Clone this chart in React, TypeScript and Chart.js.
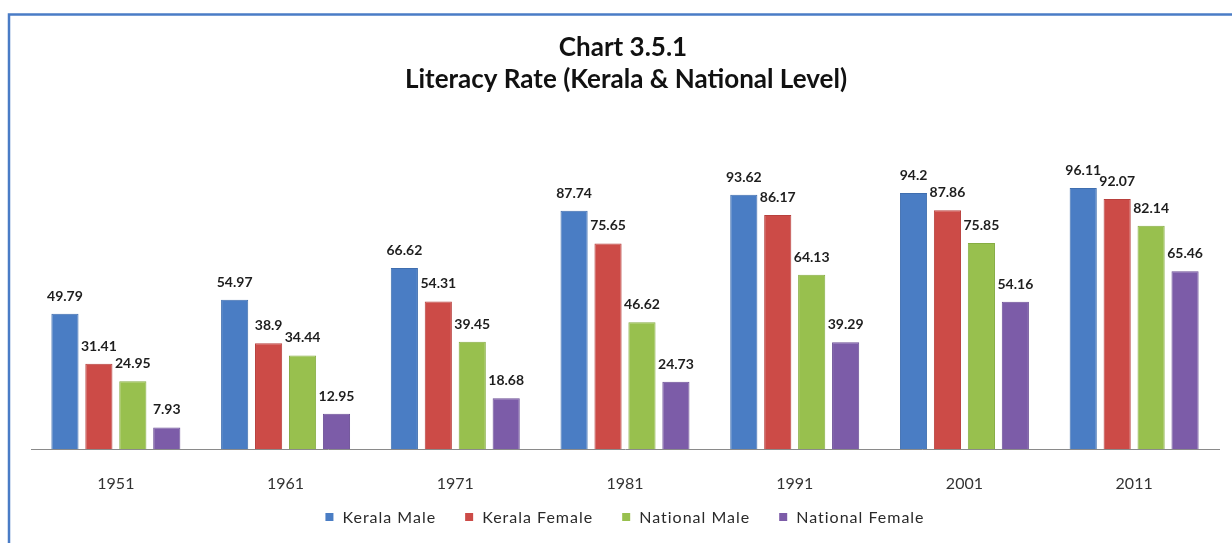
import React, { useEffect, useRef } from "react";
import { Chart, registerables } from "chart.js";

Chart.register(...registerables);

const categories = ["1951", "1961", "1971", "1981", "1991", "2001", "2011"];
const keralaMale = [49.79, 54.97, 66.62, 87.74, 93.62, 94.2, 96.11];
const keralaFemale = [31.41, 38.9, 54.31, 75.65, 86.17, 87.86, 92.07];
const nationalMale = [24.95, 34.44, 39.45, 46.62, 64.13, 75.85, 82.14];
const nationalFemale = [7.93, 12.95, 18.68, 24.73, 39.29, 54.16, 65.46];
const seriesNames = ["Kerala Male", "Kerala Female", "National Male", "National Female"];
const seriesColors = ["#4a7dc4", "#cc4b47", "#98c04e", "#7c5ca8"];
const seriesBorders = ["#3f6eaf", "#b8403d", "#86ad42", "#6c4f96"];
const titleLines = ["Chart 3.5.1", "Literacy Rate (Kerala & National Level)"];

const FONT = "Lato, 'Open Sans', sans-serif";

const decorPlugin = {
  id: "decor",
  beforeDraw(chart: any) {
    const ctx = chart.ctx;
    ctx.save();
    ctx.fillStyle = "#ffffff";
    ctx.fillRect(0, 0, chart.width, chart.height);
    ctx.strokeStyle = "#4a7cc6";
    ctx.lineWidth = 2.5;
    ctx.beginPath();
    ctx.moveTo(9, chart.height + 5);
    ctx.lineTo(9, 14.5);
    ctx.lineTo(chart.width + 5, 14.5);
    ctx.stroke();
    ctx.restore();
  },
  afterDraw(chart: any) {
    const ctx = chart.ctx;
    ctx.save();
    ctx.fillStyle = "#111111";
    ctx.textAlign = "center";
    ctx.textBaseline = "alphabetic";
    ctx.font = `bold 26px ${FONT}`;
    ctx.fillText(titleLines[0], 623, 56);
    ctx.fillText(titleLines[1], 626, 88);

    ctx.font = `16px ${FONT}`;
    (ctx as any).letterSpacing = "1px";
    ctx.textAlign = "left";
    ctx.textBaseline = "middle";
    const box = 8;
    const gapBoxText = 9;
    const gapItems = 29;
    const widths = seriesNames.map((n) => ctx.measureText(n).width);
    let total = 0;
    widths.forEach((w, i) => {
      total += box + gapBoxText + w + (i < widths.length - 1 ? gapItems : 0);
    });
    let x = 625 - total / 2;
    const cy = 517;
    seriesNames.forEach((n, i) => {
      ctx.fillStyle = seriesColors[i];
      ctx.fillRect(x, cy - box / 2, box, box);
      ctx.fillStyle = "#2a2a2a";
      ctx.fillText(n, x + box + gapBoxText, cy + 1);
      x += box + gapBoxText + widths[i] + gapItems;
    });
    (ctx as any).letterSpacing = "0px";
    ctx.restore();
  },
  afterDatasetsDraw(chart: any) {
    const ctx = chart.ctx;
    ctx.save();
    ctx.font = `bold 14px ${FONT}`;
    ctx.fillStyle = "#1e1e1e";
    ctx.textAlign = "center";
    ctx.textBaseline = "alphabetic";
    chart.data.datasets.forEach((ds: any, di: number) => {
      const meta = chart.getDatasetMeta(di);
      meta.data.forEach((bar: any, i: number) => {
        ctx.fillText(String(ds.data[i]), bar.x, bar.y - 13);
      });
    });
    ctx.restore();
  },
};

export default function App() {
  const ref = useRef<HTMLCanvasElement>(null);
  useEffect(() => {
    let chart: any = null;
    let cancelled = false;
    const make = () => {
      if (cancelled || !ref.current) return;
      const seriesData = [keralaMale, keralaFemale, nationalMale, nationalFemale];
      chart = new Chart(ref.current, {
        type: "bar",
        data: {
          labels: categories,
          datasets: seriesData.map((d, i) => ({
            label: seriesNames[i],
            data: d,
            backgroundColor: seriesColors[i],
            borderColor: seriesBorders[i],
            borderWidth: 1,
            categoryPercentage: 0.8,
            barPercentage: 0.8,
          })),
        },
        options: {
          responsive: false,
          animation: false,
          devicePixelRatio: 1,
          layout: { padding: { top: 123, left: 31, right: 13, bottom: 0 } },
          plugins: {
            legend: { display: false },
            title: { display: false },
            tooltip: { enabled: false },
          },
          scales: {
            x: {
              grid: { display: false },
              border: { display: true, color: "#8a8a8a", width: 1 },
              ticks: {
                color: "#333333",
                font: { family: FONT, size: 16 },
                padding: 17,
                maxRotation: 0,
              },
              afterFit: (axis: any) => {
                axis.height = 94;
              },
            },
            y: {
              display: false,
              min: 0,
              max: 120,
            },
          },
        },
        plugins: [decorPlugin],
      });
    };
    const fontsApi: any = (document as any).fonts;
    if (fontsApi && fontsApi.load) {
      Promise.all([
        fontsApi.load(`bold 26px Lato`),
        fontsApi.load(`16px Lato`),
        fontsApi.load(`bold 14px Lato`),
      ])
        .catch(() => null)
        .then(make);
    } else {
      make();
    }
    return () => {
      cancelled = true;
      if (chart) chart.destroy();
    };
  }, []);
  return (
    <div style={{ position: "fixed", left: 0, top: 0, width: 1232, height: 543, background: "#fff" }}>
      <canvas ref={ref} width={1232} height={543} style={{ display: "block" }} />
    </div>
  );
}
